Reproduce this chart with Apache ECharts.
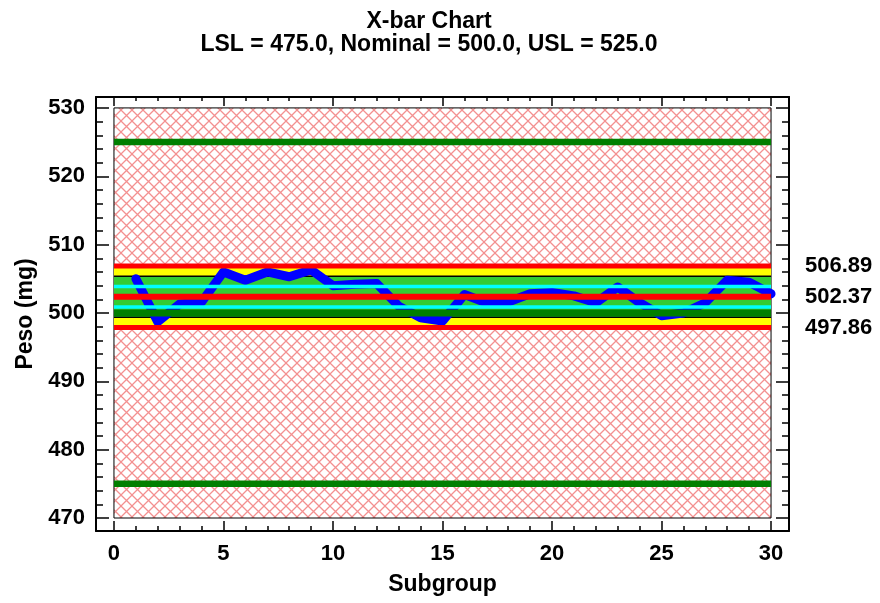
<!DOCTYPE html>
<html><head><meta charset="utf-8">
<script src="https://cdn.jsdelivr.net/npm/echarts@6/dist/echarts.min.js"></script>
<style>html,body{margin:0;padding:0;background:#fff}#c{width:880px;height:603px}</style>
</head><body><div id="c"></div>
<script>
// ---- data ----
const subgroups = [1,2,3,4,5,6,7,8,9,10,11,12,13,14,15,16,17,18,19,20,21,22,23,24,25,26,27,28,29,30];
const xbar = [505.0,498.7,501.3,501.6,506.0,504.8,506.0,505.3,506.3,504.0,504.2,504.3,501.0,499.3,498.8,502.7,501.5,501.6,502.8,503.0,502.5,501.5,503.8,501.5,499.6,500.0,501.5,504.8,504.5,502.8];
const UCL = 506.89, CL = 502.37, LCL = 497.86;
const LSL = 475.0, NOMINAL = 500.0, USL = 525.0;
const sigma2Lines = [505.38, 499.36];
const sigma1Lines = [503.88, 500.86];
const xRange = [0, 30];
const yRange = [470, 530];
const xMajorTicks = [0,5,10,15,20,25,30];
const xMinorTicks = [0,1,2,3,4,5,6,7,8,9,10,11,12,13,14,15,16,17,18,19,20,21,22,23,24,25,26,27,28,29,30];
const yMajorTicks = [470,480,490,500,510,520,530];
const yMinorTicks = [470,472,474,476,478,480,482,484,486,488,490,492,494,496,498,500,502,504,506,508,510,512,514,516,518,520,522,524,526,528,530];
const limitLabels = [LCL, CL, UCL];
const titleText = 'X-bar Chart\nLSL = 475.0, Nominal = 500.0, USL = 525.0';

// ---- layout / style ----
const X_MIN = -0.82, X_MAX = 30.82, Y_MIN = 468.1, Y_MAX = 531.6;
const FONT = 'Liberation Sans';
const FS = 22, FS_BIG = 23;

const tile = document.createElement('canvas');
tile.width = 11; tile.height = 11;
const tc = tile.getContext('2d');
tc.strokeStyle = 'rgba(235,70,70,0.6)';
tc.lineWidth = 1.3;
tc.beginPath();
tc.moveTo(-2,-2); tc.lineTo(13,13);
tc.moveTo(13,-2); tc.lineTo(-2,13);
tc.stroke();

const chart = echarts.init(document.getElementById('c'), null, {renderer: 'canvas'});

function xAx(pos, ticks, len, labels, line) {
  return {
    type: 'value', position: pos, min: X_MIN, max: X_MAX,
    axisLine: {show: line, onZero: false, lineStyle: {color: '#000', width: 2}},
    axisTick: {show: true, inside: true, length: len, customValues: ticks, lineStyle: {color: '#000', width: 1.5}},
    axisLabel: labels ? {show: true, customValues: xMajorTicks, margin: 12, fontSize: FS, fontWeight: 'bold', fontFamily: FONT, color: '#000'} : {show: false},
    splitLine: {show: false},
    name: labels ? 'Subgroup' : '', nameLocation: 'middle', nameGap: 42,
    nameTextStyle: {fontSize: FS_BIG, fontWeight: 'bold', fontFamily: FONT, color: '#000'}
  };
}
function yAx(pos, ticks, len, labels, line) {
  return {
    type: 'value', position: pos, min: Y_MIN, max: Y_MAX,
    axisLine: {show: line, onZero: false, lineStyle: {color: '#000', width: 2}},
    axisTick: {show: true, inside: true, length: len, customValues: ticks, lineStyle: {color: '#000', width: 1.5}},
    axisLabel: labels ? {show: true, customValues: yMajorTicks, margin: 11, fontSize: FS, fontWeight: 'bold', fontFamily: FONT, color: '#000'} : {show: false},
    splitLine: {show: false},
    name: labels ? 'Peso (mg)' : '', nameLocation: 'middle', nameGap: 59,
    nameTextStyle: {fontSize: FS_BIG, fontWeight: 'bold', fontFamily: FONT, color: '#000'}
  };
}

function hline(v, color, width, z) {
  return {type: 'line', data: [[xRange[0], v], [xRange[1], v]], symbol: 'none', silent: true,
    lineStyle: {color: color, width: width, cap: 'butt'}, z: z, animation: false};
}

const series = [
  {type: 'line', data: [], z: 1, silent: true,
    markArea: {silent: true, z: 1, itemStyle: {color: {image: tile, repeat: 'repeat'}, borderColor: '#000', borderWidth: 1},
      data: [[{coord: [xRange[0], yRange[0]]}, {coord: [xRange[1], yRange[1]]}]]}},
  {type: 'line', data: [], z: 2, silent: true,
    markArea: {silent: true, z: 2, data: [
      [{coord: [xRange[0], LCL], itemStyle: {color: '#ffff00'}}, {coord: [xRange[1], sigma2Lines[1]]}],
      [{coord: [xRange[0], sigma2Lines[1]], itemStyle: {color: '#33cc33'}}, {coord: [xRange[1], sigma2Lines[0]]}],
      [{coord: [xRange[0], sigma2Lines[0]], itemStyle: {color: '#ffff00'}}, {coord: [xRange[1], UCL]}]
    ]}},
  hline(sigma2Lines[0], '#000', 1.5, 3),
  hline(sigma2Lines[1], '#000', 1.5, 3),
  {type: 'line', data: subgroups.map((s, i) => [s, xbar[i]]), symbol: 'none', z: 4,
    lineStyle: {color: '#0000ff', width: 9, join: 'round', cap: 'round'}, animation: false},
  hline(sigma1Lines[0], '#00ffff', 3.5, 5),
  hline(sigma1Lines[1], '#00ffff', 3.5, 5),
  hline(NOMINAL, '#007f00', 7, 5),
  hline(UCL, '#ff0000', 5, 6),
  hline(CL, '#ff0000', 6, 6),
  hline(LCL, '#ff0000', 5, 6),
  hline(USL, '#007f00', 6.5, 5),
  hline(LSL, '#007f00', 6.5, 5)
];

chart.setOption({
  animation: false,
  backgroundColor: '#fff',
  textStyle: {fontFamily: FONT},
  title: {text: titleText, left: 424, top: 5, textAlign: 'center',
    textStyle: {fontSize: FS_BIG, fontWeight: 'bold', fontFamily: FONT, color: '#000', lineHeight: 23}},
  grid: {left: 96, right: 91, top: 97, bottom: 72, containLabel: false},
  xAxis: [
    xAx('bottom', xMajorTicks, 10, true, true),
    xAx('bottom', xMinorTicks, 5, false, false),
    xAx('top', xMajorTicks, 9, false, true),
    xAx('top', xMinorTicks, 4, false, false)
  ],
  yAxis: [
    yAx('left', yMajorTicks, 13, true, true),
    yAx('left', yMinorTicks, 7, false, false),
    yAx('right', yMajorTicks, 13, false, true),
    yAx('right', yMinorTicks, 7, false, false),
    {type: 'value', position: 'right', min: Y_MIN, max: Y_MAX,
      axisLine: {show: false}, axisTick: {show: false}, splitLine: {show: false},
      axisLabel: {show: true, customValues: limitLabels, margin: 16, fontSize: FS, fontWeight: 'bold', fontFamily: FONT, color: '#000',
        formatter: v => v.toFixed(2)}}
  ],
  series: series
});
</script>
</body></html>
